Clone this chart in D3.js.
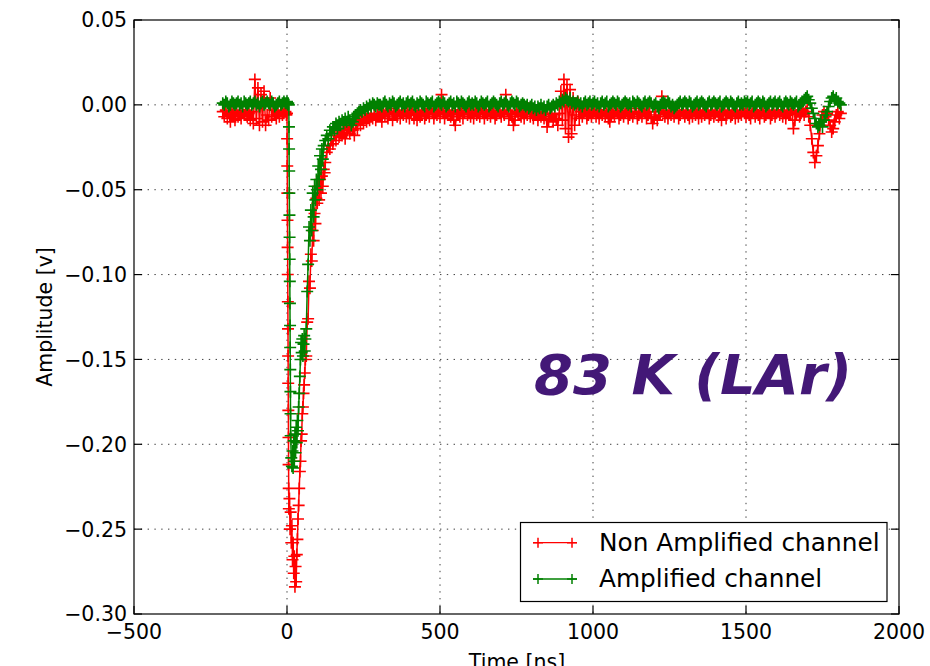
<!DOCTYPE html>
<html><head><meta charset="utf-8">
<script src="https://cdn.jsdelivr.net/npm/d3@7"></script>
<style>body{margin:0;background:#fff} svg{display:block} text{font-family:"DejaVu Sans",sans-serif}</style>
</head><body><svg id="chart" width="930" height="666"></svg>
<script>
// ---- data (time in ns, amplitude in mV) ----
// baseline segments are sampled every 5 ns
const preStart = -210, postStart = 305, sampleStep = 5;

const redPre = [-4,-7,-3,-8,-5,-10,-4,-6,-9,-3,-7,-5,-8,-4,-6,-3,-7,-5,-9,-4,-11,15,-8,10,-12,6,-10,8,-12,-6,-9,4,-7,-3,-6,-8,-4,-7,-3,-6,-5,-4];
const greenPre = [1,0,2,1,-1,0,2,1,0,1,2,0,1,-1,2,1,0,1,2,0,1,2,0,1,-1,1,2,0,1,2,1,0,2,1,-1,0,1,2,0,1,2,1];

const redPulseTimes = [-2,0,0.4,0.8,1.2,1.6,2,2.4,2.8,3.2,3.6,4,4.4,4.8,5.2,5.6,6,
8,10,12,14,16,18,20,22,24,26,28,30,32,34,36,38,40,42,44,46,48,50,52,54,56,58,60,
63,66,69,72,75,78,81,84,87,90,93,96,99,102,105,108,111,114,117,120,123,
125,130,135,140,145,150,155,160,165,170,175,180,185,190,195,200,205,210,215,220,
225,230,235,240,245,250,255,260,265,270,275,280,285,290,295,300];
const redPulse = [-6,-5,-20,-36,-52,-68,-84,-100,-116,-132,-148,-164,-180,-196,-212,-226,-238,
-232,-250,-240,-258,-248,-268,-258,-276,-266,-284,-272,-281,-265,-256,-244,-236,-226,-216,-210,-198,-194,-182,-178,-170,-165,-158,-150,
-148,-128,-126,-104,-108,-88,-92,-74,-80,-64,-70,-55,-58,-48,-56,-44,-52,-42,-48,-38,-40,
-34,-28,-24,-26,-20,-23,-18,-21,-16,-19,-15,-18,-14,-20,-16,-13,-17,-12,-15,-18,
-11,-14,-9,-12,-8,-11,-7,-10,-6,-9,-5,-8,-6,-9,-5,-7];

const greenPulseTimes = [-2,0,2,4,6,6.4,6.8,7.2,7.6,8,8.4,8.8,9.2,9.6,10,10.4,10.8,11.2,11.6,12,
14,16,18,20,22,24,26,28,30,32,34,36,38,40,42,44,46,48,50,52,54,56,58,60,
63,66,69,72,75,78,81,84,87,90,93,96,99,102,105,108,111,114,117,120,
125,130,135,140,145,150,155,160,165,170,175,180,185,190,195,200,205,210,215,220,
225,230,235,240,245,250,255,260,265,270,275,280,285,290,295,300];
const greenPulse = [1,2,0,1,0,-13,-26,-39,-52,-65,-78,-91,-104,-117,-130,-143,-156,-169,-182,-195,
-208,-213,-204,-214,-198,-210,-194,-205,-190,-199,-186,-192,-178,-170,-160,-150,-140,-146,-138,-148,-141,-136,-145,-138,
-132,-110,-94,-72,-80,-62,-74,-52,-66,-48,-56,-44,-50,-36,-44,-30,-38,-26,-32,-24,
-21,-18,-20,-15,-17,-13,-15,-11,-14,-10,-12,-9,-11,-8,-10,-7,-9,-12,-10,-8,
-6,-5,-4,-3,-4,-2,-3,-1,-2,0,-1,1,0,-1,1,0];

const redPost = [
-6,-10,-4,-7,-3,-8,-5,-2,-9,-6,-4,-7,-3,-8,-5,-6,-3,-7,-4,-8,
-5,-3,-8,-6,-9,-4,-7,-5,-3,-8,-6,-4,-7,-2,-5,-8,-4,-6,-3,-7,
6,-5,-8,-4,-6,-3,-7,-5,-9,-12,-6,-4,-7,-3,-8,-5,-2,-6,-4,-7,
-5,-8,-3,-6,-4,-7,-2,-5,-8,-4,-6,-3,-7,-5,-4,-8,-6,-3,-5,-7,
-4,-6,6,-3,-8,-5,-7,-12,-9,-4,-6,-3,-7,-5,-8,-4,-6,-2,-7,-5,
-8,-4,-6,-9,-5,-7,-4,-8,-6,-13,-9,-5,-7,-10,-6,-8,-12,-5,8,-9,
15,-14,12,-19,9,-17,4,-12,-6,2,-8,-4,-7,-5,-3,-8,-6,-4,-7,-5,
-3,-7,-5,-8,-4,-6,-3,-7,-5,-8,-10,-6,-4,-7,-3,-5,-8,-6,-4,-7,
-5,-3,-8,-6,-4,-7,-5,-2,-8,-6,-4,-7,-3,-5,-8,-6,-4,-7,-11,-8,
-6,-9,-4,-6,5,-3,-7,-5,-8,-4,-6,-3,-7,-5,-4,-8,-6,-3,-5,-7,
-4,-6,-8,-5,-7,-3,-6,-4,-8,-5,-7,-3,-6,-4,-5,-8,-6,-3,-7,-5,
-4,-7,-5,-9,-6,-3,-8,-5,-4,-7,-6,-3,-8,-5,-7,-4,-6,-3,-5,-7,
-4,-6,-8,-5,-3,-7,-4,-6,-8,-5,-3,-7,-6,-4,-5,-8,-6,-3,-7,-5,
-4,-6,-3,-7,-5,-8,-4,-6,-5,-3,-14,-9,-6,-4,-7,-5,-3,-6,-4,-2,
-7,-12,-20,-28,-34,-30,-24,-17,-10,-6,-4,-7,-5,-9,-12,-16,-14,-10,-6,-4,
-8,-5];
const greenPost = [
0,-1,1,2,0,-1,1,0,2,1,-1,0,1,2,0,1,-1,1,2,0,
1,2,0,-1,1,0,2,1,0,-1,2,1,0,1,2,-1,0,1,2,1,
0,2,1,-1,0,1,2,0,1,-1,2,1,0,2,1,0,-1,1,2,0,
1,0,2,1,-1,0,2,1,0,1,2,-1,0,1,2,1,0,-1,1,2,
0,1,2,0,-1,1,2,1,0,2,1,-1,0,1,0,-1,0,-2,-1,0,
-2,-1,-3,-1,-2,0,-2,-1,-3,-1,0,-2,-1,0,-1,1,0,2,1,3,
2,4,3,2,4,1,2,0,1,2,0,1,-1,1,2,0,1,2,0,1,
2,0,1,-1,1,2,0,1,2,-1,0,1,2,1,0,2,1,-1,0,1,
2,1,0,1,-1,2,1,0,2,1,0,-1,1,2,0,1,2,1,-1,0,
1,-1,-2,0,1,2,1,0,2,1,-1,0,-2,-1,0,1,2,0,1,2,
1,0,2,1,-1,0,1,2,0,1,2,1,0,-1,1,2,0,1,2,1,
0,1,2,-1,0,1,2,1,0,2,1,0,-1,1,2,0,1,0,2,1,
2,0,1,2,-1,0,1,2,1,0,2,1,-1,0,1,2,0,1,2,0,
1,2,0,-1,1,2,1,0,2,1,0,1,2,-1,0,1,2,3,4,5,
3,1,-2,-5,-8,-11,-13,-12,-10,-13,-9,-6,-4,-1,2,4,5,3,4,2,
1,0];

const xTickValues = [-500,0,500,1000,1500,2000];
const yTickValues = [0.05,0.00,-0.05,-0.10,-0.15,-0.20,-0.25,-0.30];
const seriesNames = ["Non Amplified channel","Amplified channel"];
const seriesColors = ["#ff0000","#008000"];
const annotationText = "83 K (LAr)";

// ---- build series ----
function build(preV, pulseT, pulseV, postV){
  const pts = [];
  preV.forEach((v,i)=>pts.push({t:preStart+i*sampleStep, v:v/1000}));
  pulseT.forEach((t,i)=>pts.push({t:t, v:pulseV[i]/1000}));
  postV.forEach((v,i)=>pts.push({t:postStart+i*sampleStep, v:v/1000}));
  return pts;
}
const redData = build(redPre, redPulseTimes, redPulse, redPost);
const greenData = build(greenPre, greenPulseTimes, greenPulse, greenPost);

// ---- chart ----
const svg = d3.select("#chart");
const L=134, R=899, T=20, B=614;
const x = d3.scaleLinear().domain([-500,2000]).range([L,R]);
const y = d3.scaleLinear().domain([-0.30,0.05]).range([B,T]);

svg.append("rect").attr("width",930).attr("height",666).attr("fill","#fff");

// grid
const grid = svg.append("g").attr("stroke","#000").attr("stroke-width",1)
  .attr("stroke-dasharray","1.4,5.4").attr("opacity",0.75);
xTickValues.slice(1,-1).forEach(v=>{
  grid.append("line").attr("x1",x(v)).attr("x2",x(v)).attr("y1",T).attr("y2",B);
});
yTickValues.slice(1,-1).forEach(v=>{
  grid.append("line").attr("x1",L).attr("x2",R).attr("y1",y(v)).attr("y2",y(v));
});

svg.append("clipPath").attr("id","clip").append("rect")
  .attr("x",L).attr("y",T).attr("width",R-L).attr("height",B-T);

const line = d3.line().x(d=>x(d.t)).y(d=>y(d.v));
const ms = 6;
function plus(data){
  return data.map(d=>{const px=x(d.t), py=y(d.v);
    return `M${px-ms},${py}H${px+ms}M${px},${py-ms}V${py+ms}`;}).join("");
}
const plot = svg.append("g").attr("clip-path","url(#clip)");
[[redData,seriesColors[0]],[greenData,seriesColors[1]]].forEach(([data,col])=>{
  plot.append("path").datum(data).attr("d",line).attr("fill","none")
    .attr("stroke",col).attr("stroke-width",1.5);
  plot.append("path").attr("d",plus(data)).attr("fill","none")
    .attr("stroke",col).attr("stroke-width",1.6);
});

// frame and inward ticks
const ax = svg.append("g").attr("stroke","#000").attr("stroke-width",1.2);
const tl = 8;
xTickValues.forEach(v=>{
  ax.append("line").attr("x1",x(v)).attr("x2",x(v)).attr("y1",B).attr("y2",B-tl);
  ax.append("line").attr("x1",x(v)).attr("x2",x(v)).attr("y1",T).attr("y2",T+tl);
});
yTickValues.forEach(v=>{
  ax.append("line").attr("x1",L).attr("x2",L+tl).attr("y1",y(v)).attr("y2",y(v));
  ax.append("line").attr("x1",R).attr("x2",R-tl).attr("y1",y(v)).attr("y2",y(v));
});
ax.append("rect").attr("x",L).attr("y",T).attr("width",R-L).attr("height",B-T).attr("fill","none");

// tick labels
const fy = d3.format(".2f");
yTickValues.forEach(v=>{
  svg.append("text").attr("x",L-7).attr("y",y(v)).attr("dy","0.36em")
    .attr("text-anchor","end").attr("font-size","20.5px").text(fy(v));
});
xTickValues.forEach(v=>{
  svg.append("text").attr("x",x(v)).attr("y",639)
    .attr("text-anchor","middle").attr("font-size","20.5px").text(d3.format("d")(v));
});

// axis labels
svg.append("text").attr("transform","translate(52,317) rotate(-90)")
  .attr("text-anchor","middle").attr("font-size","20.5px").text("Amplitude [v]");
svg.append("text").attr("x",517).attr("y",669)
  .attr("text-anchor","middle").attr("font-size","20.5px").text("Time [ns]");

// annotation
svg.append("text").attr("x",534).attr("y",394).attr("font-size","56px")
  .attr("font-weight","bold").attr("font-style","italic").attr("fill","#431877")
  .text(annotationText);

// legend
const lg = svg.append("g");
lg.append("rect").attr("x",520.5).attr("y",522.5).attr("width",366.5).attr("height",79)
  .attr("fill","#fff").attr("stroke","#000").attr("stroke-width",1.2);
[542.7,579].forEach((ly,i)=>{
  lg.append("line").attr("x1",533).attr("x2",577).attr("y1",ly).attr("y2",ly)
    .attr("stroke",seriesColors[i]).attr("stroke-width",1.3);
  [538,572].forEach(mx=>{
    lg.append("path").attr("d",`M${mx-5},${ly}H${mx+5}M${mx},${ly-5}V${ly+5}`)
      .attr("stroke",seriesColors[i]).attr("stroke-width",1.5);
  });
  lg.append("text").attr("x",599).attr("y",ly+8.2).attr("font-size","24.8px").text(seriesNames[i]);
});
</script>
</body></html>
